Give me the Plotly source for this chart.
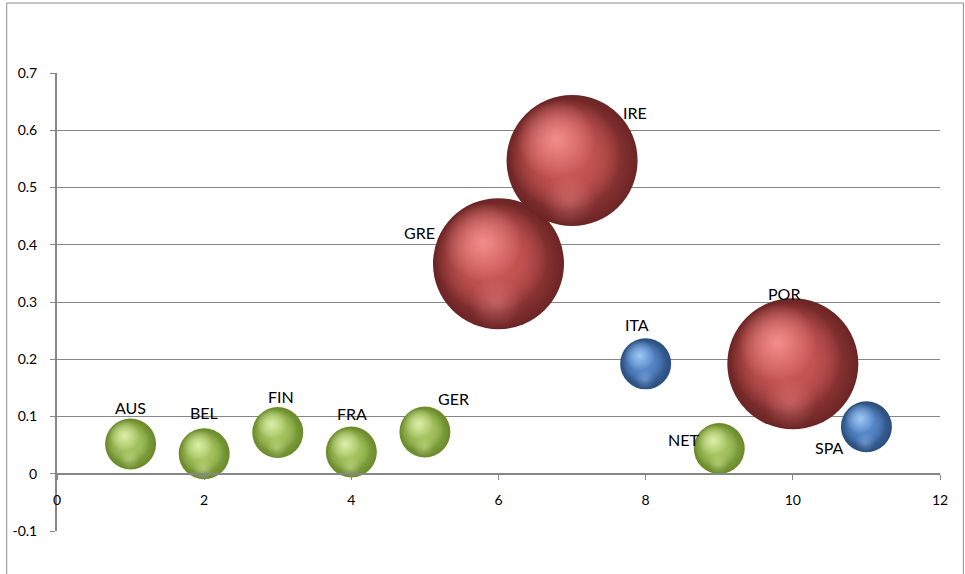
import plotly.graph_objects as go

# Sovereign bubble data
countries = ["AUS", "BEL", "FIN", "FRA", "GER", "GRE", "IRE", "ITA", "NET", "POR", "SPA"]
x_vals = [1, 2, 3, 4, 5, 6, 7, 8, 9, 10, 11]
y_vals = [0.052, 0.035, 0.072, 0.038, 0.073, 0.367, 0.547, 0.192, 0.044, 0.192, 0.082]
bubble_size = [1, 1, 1, 1, 1, 6.6, 6.6, 1, 1, 6.6, 1]
group = ["core", "core", "core", "core", "core", "red", "red", "blue", "core", "red", "blue"]

x_ticks = [0, 2, 4, 6, 8, 10, 12]
y_ticks = [-0.1, 0, 0.1, 0.2, 0.3, 0.4, 0.5, 0.6, 0.7]

# sphere palette per group: (body r,g,b, rim, highlight r,g,b)
palette = {
    "core": ((166, 196, 96), "#6a8a2a", (230, 247, 184)),
    "blue": ((86, 136, 202), "#2a4d7c", (172, 210, 252)),
    "red": ((200, 86, 84), "#6c2424", (250, 152, 150)),
}


def rgba(c, a):
    return f"rgba({c[0]},{c[1]},{c[2]},{a})"


# label offsets (px, right / up) relative to each bubble centre
label_shift = {
    "AUS": (0, 36), "BEL": (0, 41), "FIN": (3, 36), "FRA": (1, 39), "GER": (29, 33),
    "GRE": (-79, 31), "IRE": (63, 48), "ITA": (-9, 39), "NET": (-36, 9),
    "POR": (-9, 70), "SPA": (-37, -21),
}

W, H = 965, 574
ML, MR, MT, MB = 53, 25, 73, 43
PW, PH = W - ML - MR, H - MT - MB
X_RANGE = [0, 12]
Y_RANGE = [-0.1, 0.7]
px_per_x = PW / (X_RANGE[1] - X_RANGE[0])
px_per_y = PH / (Y_RANGE[1] - Y_RANGE[0])

# bubble area proportional to size -> diameter in px
DIAM_UNIT = 51.0
diam = [DIAM_UNIT * s ** 0.5 for s in bubble_size]

fig = go.Figure()


def sphere_layer(fx, fy, fs, edge, centre):
    """One radial-gradient disc per bubble; offsets fx, fy and scale fs are
    fractions of the bubble diameter. For radial gradients plotly puts
    marker.color on the rim and gradient.color in the middle."""
    fig.add_trace(go.Scatter(
        x=[x + fx * d / px_per_x for x, d in zip(x_vals, diam)],
        y=[y + fy * d / px_per_y for y, d in zip(y_vals, diam)],
        mode="markers", hoverinfo="skip", showlegend=False,
        marker=dict(
            size=[d * fs for d in diam], sizemode="diameter", sizeref=1, opacity=1,
            color=edge, gradient=dict(type="radial", color=centre),
            line=dict(width=0),
        ),
    ))


# dark rim shading the whole ball
sphere_layer(0, 0, 1.0,
             [palette[g][1] for g in group],
             [rgba(palette[g][0], 1) for g in group])
# body tone (stacked twice for a flatter core), shifted up-left so the
# shading gathers on the lower right; kept inside the ball's outline
for _ in range(2):
    sphere_layer(-0.055, 0.045, 0.85,
                 [rgba(palette[g][0], 0) for g in group],
                 [rgba(palette[g][0], 1) for g in group])
# soft bounce light along the lower edge
sphere_layer(-0.02, -0.3, 0.4,
             [rgba(palette[g][2], 0) for g in group],
             [rgba(palette[g][2], 0.35) for g in group])
# specular highlight
sphere_layer(-0.12, 0.16, 0.6,
             [rgba(palette[g][2], 0) for g in group],
             [rgba(palette[g][2], 0.85) for g in group])

for name, x, y in zip(countries, x_vals, y_vals):
    dx, dy = label_shift[name]
    fig.add_annotation(
        x=x, y=y, text=name, showarrow=False, xshift=dx, yshift=dy,
        font=dict(family="Lato", size=16, color="#000000"),
    )

# outer chart frame
fig.add_shape(
    type="rect", xref="paper", yref="paper",
    x0=(2.5 - ML) / PW, x1=(963.5 - ML) / PW,
    y0=(H - MB - 600) / PH, y1=(H - MB - 3) / PH,
    line=dict(color="#8c8c8c", width=1), fillcolor="rgba(0,0,0,0)", layer="below",
)

axis_grey = "#868686"
fig.update_layout(
    width=W, height=H,
    margin=dict(l=ML, r=MR, t=MT, b=MB, pad=0),
    paper_bgcolor="white", plot_bgcolor="white",
    font=dict(family="Lato", size=14, color="#000000"),
    xaxis=dict(
        range=X_RANGE, tickvals=x_ticks, ticktext=[str(v) for v in x_ticks],
        showgrid=False, zeroline=False,
        showline=True, linecolor=axis_grey, linewidth=2,
        ticks="outside", ticklen=5, tickcolor=axis_grey, tickwidth=1,
        anchor="free", position=(0 - Y_RANGE[0]) / (Y_RANGE[1] - Y_RANGE[0]),
        ticklabelstandoff=8,
    ),
    yaxis=dict(
        range=Y_RANGE, tickvals=y_ticks, ticktext=[f"{v:g}" for v in y_ticks],
        showgrid=True, gridcolor=axis_grey, gridwidth=1, zeroline=False,
        showline=True, linecolor=axis_grey, linewidth=2,
        ticks="outside", ticklen=5, tickcolor=axis_grey, tickwidth=1,
        ticklabelstandoff=10,
    ),
)

fig.write_html("out.html")
